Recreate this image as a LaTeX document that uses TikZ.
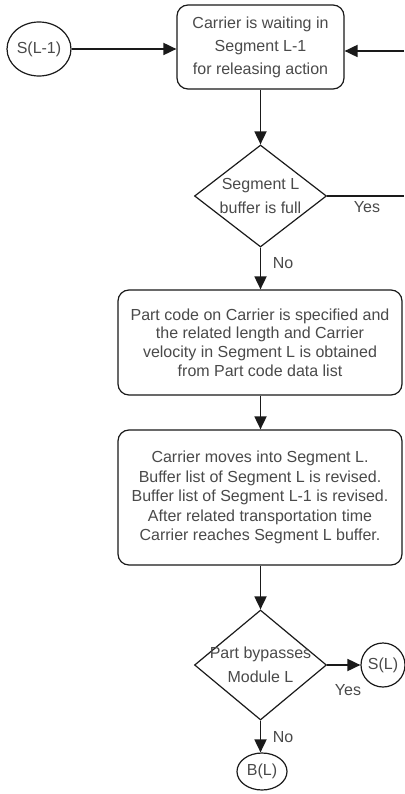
\documentclass[tikz,border=0pt]{standalone}
\usepackage{fontspec}
\setmainfont{Liberation Sans}
\usetikzlibrary{shapes.geometric,arrows.meta}
\definecolor{txtgrey}{HTML}{4A4A4A}
\definecolor{linegrey}{HTML}{1A1A1A}
\begin{document}
\begin{tikzpicture}[x=1pt,y=-1pt,
  every node/.style={font=\fontsize{16}{19}\selectfont, text=txtgrey},
  procbox/.style={draw=linegrey, line width=1.2pt, rounded corners=11pt, align=center, inner sep=0pt},
  decbox/.style={draw=linegrey, line width=1.2pt, shape=diamond, inner sep=0pt, minimum width=132pt},
  dectext/.style={align=center, inner sep=0pt, font=\fontsize{16}{23.5}\selectfont, text=txtgrey},
  termnode/.style={draw=linegrey, line width=1.2pt, shape=ellipse, inner sep=0pt},
  flow/.style={draw=linegrey, line width=1.8pt, -{Triangle[length=13pt,width=12pt]}},
  plain/.style={draw=linegrey, line width=1.8pt},
  lbl/.style={inner sep=0pt, text=txtgrey}]
\useasboundingbox (0,0) rectangle (404,794);
\fill[white] (0,0) rectangle (404,794);

\node[procbox, minimum width=167pt, minimum height=84pt, font=\fontsize{16}{23}\selectfont] (b1) at (260.5,47)
  {Carrier is waiting in\\Segment L-1\\for releasing action};
\node[termnode, minimum width=64pt, minimum height=54pt] (s1) at (39,49) {S(L-1)};
\coordinate (rin) at (404,51);
\coordinate (rout) at (404,196);

\node[decbox, minimum height=102pt, label={[dectext]center:Segment L\\buffer is full}] (d1) at (260.5,196) {};

\node[procbox, minimum width=284pt, minimum height=105pt, font=\fontsize{16}{18.6}\selectfont] (b2) at (260,342.5)
  {Part code on Carrier is specified and\\the related length and Carrier\\velocity in Segment L is obtained\\from Part code data list};

\node[procbox, minimum width=284pt, minimum height=135pt, font=\fontsize{16}{19.6}\selectfont] (b3) at (260,497.5)
  {Carrier moves into Segment L.\\Buffer list of Segment L is revised.\\Buffer list of Segment L-1 is revised.\\After related transportation time\\Carrier reaches Segment L buffer.};

\node[decbox, minimum height=110pt, label={[dectext]center:Part bypasses\\Module L}] (d2) at (260.5,665) {};

\node[termnode, minimum width=44pt, minimum height=44pt] (sl) at (383,665) {S(L)};
\node[termnode, minimum width=50pt, minimum height=37pt] (bl) at (262,771.5) {B(L)};

\node[lbl] (y1) at (367,207) {Yes};
\node[lbl] (n1) at (283,263) {No};
\node[lbl] (y2) at (348,690) {Yes};
\node[lbl] (n2) at (283,737) {No};

\draw[flow] (s1.east) -- (b1.west |- s1.east);
\draw[flow] (rin) -- (rin -| b1.east);
\draw[flow] (b1.south -| d1.north) -- (d1.north);
\draw[plain] (d1.east) -- (rout);
\draw[flow] (d1.south) -- (d1.south |- b2.north);
\draw[flow] (b2.south -| d1.north) -- (b3.north -| d1.north);
\draw[flow] (b3.south -| d2.north) -- (d2.north);
\draw[flow] (d2.east) -- (sl.west);
\draw[flow] (d2.south) -- (d2.south |- bl.north);
\end{tikzpicture}
\end{document}
